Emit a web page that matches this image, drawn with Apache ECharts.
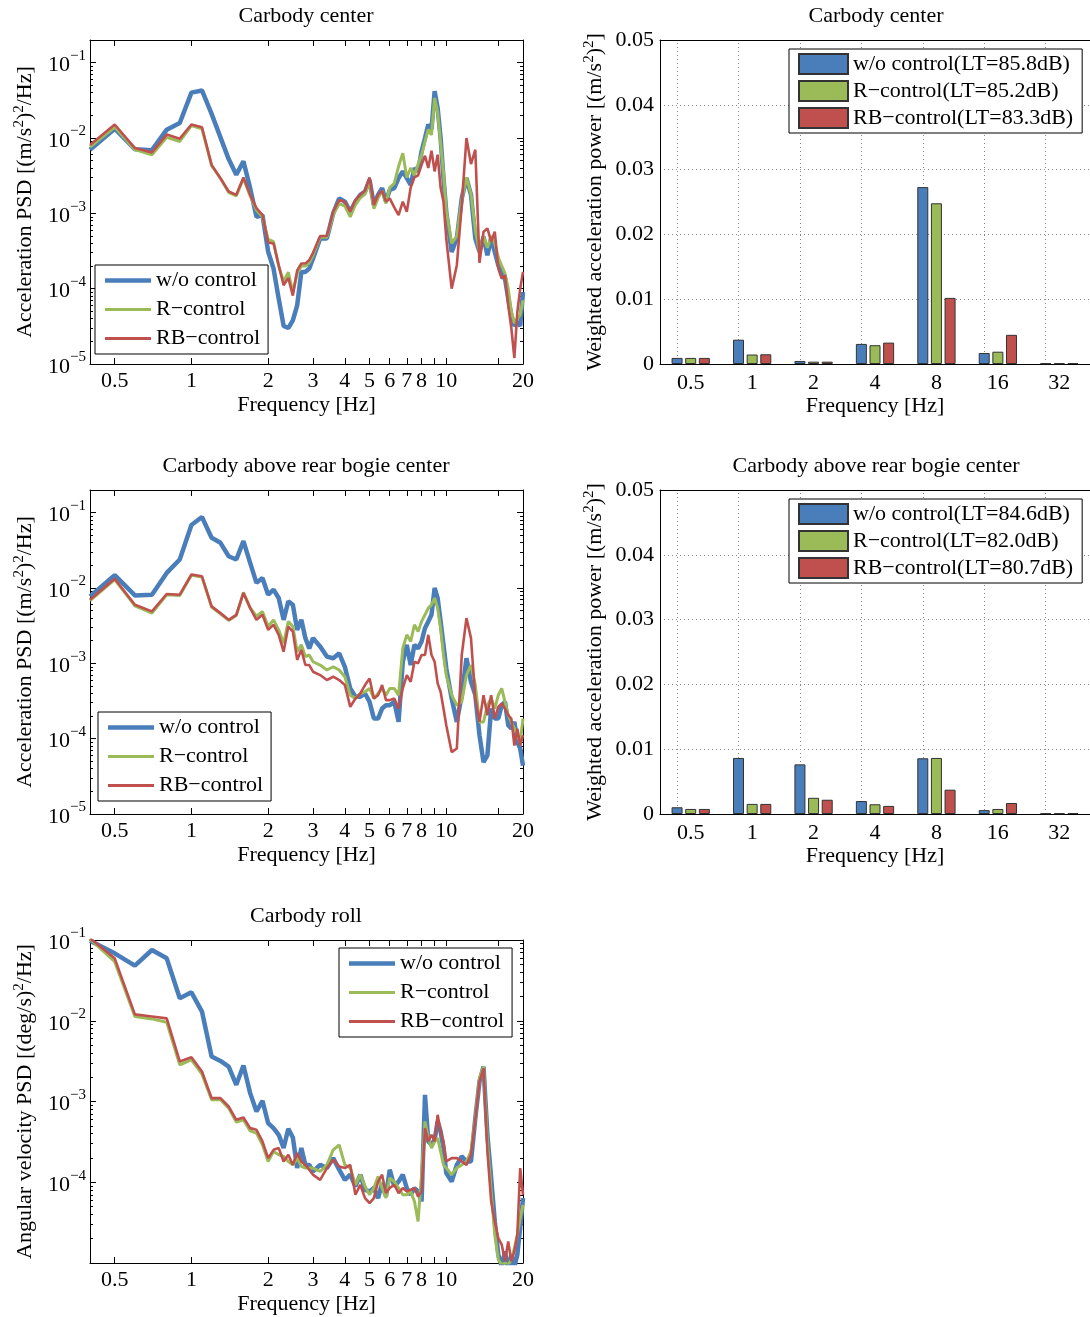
<!DOCTYPE html>
<html><head><meta charset="utf-8">
<script src="https://cdn.jsdelivr.net/npm/echarts@6/dist/echarts.min.js"></script>
<style>html,body{margin:0;padding:0;background:#fff}#c{width:1090px;height:1317px}</style>
</head><body><div id="c"></div>
<script>
// ---------------- DATA ----------------
const freq = [
  0.4,0.5,0.6,0.7,0.8,0.9,1.0,1.1,1.2,1.3,1.4,1.5,1.6,1.7,1.8,1.9,2.0,2.1,2.2,2.3,2.4,2.5,2.6,2.7,2.8,2.9,3.0,
  3.2,3.4,3.6,3.8,4.0,4.2,4.4,4.6,4.8,5.0,5.2,5.4,5.6,5.8,6.0,
  6.25,6.5,6.75,7.0,7.25,7.5,7.75,8.0,8.25,8.5,8.75,9.0,9.25,9.5,9.75,10,
  10.5,11,11.5,12,12.5,13,13.5,14,14.5,15,15.5,16,16.5,17,17.5,18,18.5,19,19.5,20
];
// Carbody center acceleration PSD [(m/s^2)^2/Hz]
const centerWo = [
  0.0070,0.0133,0.0071,0.0069,0.0129,0.0158,0.040,0.0428,0.0209,0.0102,0.00525,0.00325,0.00489,0.00216,0.00090,0.00095,0.00031,0.000185,7.4e-5,3.2e-5,3.0e-5,3.8e-5,6.0e-5,0.000167,0.000167,0.000185,0.000251,
  0.000464,0.000464,0.00100,0.00158,0.00143,0.00105,0.00143,0.00176,0.00195,0.00278,0.00129,0.00176,0.00216,0.00143,0.00205,
  0.00216,0.00293,0.0036,0.00293,0.00239,0.00398,0.0036,0.00664,0.0100,0.0151,0.0130,0.042,0.025,0.0100,0.00293,0.00105,
  0.000308,0.000464,0.00158,0.00293,0.00176,0.000464,0.000308,0.000489,0.000278,0.000464,0.000308,0.000205,0.000167,0.000136,7.4e-5,4.4e-5,3.2e-5,3.6e-5,3.2e-5,9.0e-5
];
const centerR = [
  0.0076,0.0140,0.0070,0.0060,0.0102,0.0090,0.0146,0.0132,0.0043,0.0029,0.0019,0.0017,0.0029,0.0017,0.0011,0.00090,0.00045,0.00042,0.00020,0.000125,0.000165,9.0e-5,0.000160,0.000200,0.000200,0.00022,0.00028,
  0.00048,0.00048,0.00095,0.00135,0.00125,0.00090,0.00130,0.00160,0.00180,0.0026,0.00115,0.00160,0.0020,0.00135,0.0022,
  0.0025,0.0042,0.0063,0.0030,0.0040,0.0032,0.0045,0.0060,0.0090,0.0130,0.0110,0.034,0.022,0.0085,0.0035,0.0011,
  0.00040,0.00050,0.00150,0.0030,0.0018,0.00060,0.00030,0.00050,0.00035,0.00050,0.00040,0.00026,0.00020,0.00016,0.00010,5.0e-5,3.5e-5,4.0e-5,4.5e-5,7e-5
];
const centerRB = [
  0.0081,0.0151,0.00735,0.00644,0.0111,0.0098,0.0151,0.0139,0.0044,0.00293,0.00195,0.00176,0.0030,0.00176,0.00117,0.00095,0.00041,0.000398,0.000205,0.000111,0.000139,8.1e-5,0.000175,0.000216,0.000216,0.00024,0.00030,
  0.00050,0.00050,0.00105,0.00150,0.00143,0.00105,0.00150,0.00176,0.0020,0.0030,0.00129,0.00176,0.0020,0.00143,0.00158,
  0.0012,0.00095,0.00143,0.00105,0.0022,0.0030,0.0032,0.0044,0.0058,0.0040,0.0068,0.0036,0.0060,0.0022,0.00143,0.00046,
  0.0001,0.000205,0.00129,0.0100,0.0045,0.0070,0.00022,0.00057,0.00063,0.00042,0.00057,0.000185,0.000136,0.00015,6e-5,3e-5,1.2e-5,4.9e-5,0.0001,0.000167
];
// Carbody above rear bogie center acceleration PSD
const bogieWo = [
  7.74e-3,1.48e-2,7.98e-3,8.15e-3,1.585e-2,2.39e-2,6.85e-2,8.75e-2,4.64e-2,3.98e-2,2.64e-2,2.39e-2,4.19e-2,2.16e-2,1.17e-2,1.36e-2,8.15e-3,9.5e-3,7.36e-3,3.78e-3,6.64e-3,6.0e-3,2.78e-3,3.78e-3,2.16e-3,1.58e-3,2.16e-3,
  1.67e-3,1.23e-3,1.17e-3,1.36e-3,9.0e-4,4.64e-4,3.6e-4,3.6e-4,3.98e-4,3.08e-4,1.85e-4,1.85e-4,2.51e-4,2.78e-4,2.78e-4,
  3.08e-4,1.67e-4,1.05e-3,1.76e-3,9.5e-4,1.76e-3,1.58e-3,1.95e-3,2.93e-3,3.6e-3,4.41e-3,1.0e-2,7.36e-3,3.6e-3,1.76e-3,8.58e-4,
  3.41e-4,1.67e-4,3.78e-4,1.17e-3,5.7e-4,3.78e-4,1.11e-4,4.89e-5,6.0e-5,2.51e-4,1.85e-4,1.85e-4,2.78e-4,3.08e-4,1.51e-4,1.36e-4,1.67e-4,9.0e-5,7.4e-5,4.4e-5
];
const bogieR = [
  6.78e-3,1.29e-2,5.81e-3,4.64e-3,8.15e-3,7.98e-3,1.48e-2,1.40e-2,5.58e-3,4.55e-3,3.71e-3,4.32e-3,8.75e-3,5.5e-3,4.19e-3,4.89e-3,3.08e-3,3.78e-3,2.78e-3,1.85e-3,3.6e-3,3.08e-3,1.43e-3,1.76e-3,1.23e-3,1.29e-3,1.05e-3,
  9.5e-4,8.15e-4,9.0e-4,8.15e-4,6.64e-4,3.78e-4,3.41e-4,3.98e-4,4.19e-4,4.64e-4,3.41e-4,3.98e-4,4.64e-4,3.78e-4,4.64e-4,
  4.64e-4,3.78e-4,1.58e-3,2.39e-3,1.95e-3,3.25e-3,2.64e-3,3.6e-3,4.41e-3,5.41e-3,6.0e-3,7.36e-3,5.41e-3,2.93e-3,1.29e-3,6.99e-4,
  3.78e-4,2.78e-4,3.08e-4,6.99e-4,9.5e-4,5.15e-4,1.67e-4,1.67e-4,2.78e-4,3.41e-4,2.51e-4,3.78e-4,4.64e-4,3.08e-4,2.05e-4,1.67e-4,1.36e-4,1.11e-4,9.0e-5,1.85e-4
];
const bogieRB = [
  6.99e-3,1.33e-2,6.0e-3,4.89e-3,8.32e-3,8.15e-3,1.51e-2,1.43e-2,5.7e-3,4.64e-3,3.78e-3,4.41e-3,8.58e-3,5.41e-3,3.78e-3,4.41e-3,2.78e-3,3.25e-3,2.39e-3,1.43e-3,3.08e-3,2.64e-3,1.11e-3,1.51e-3,9.5e-4,9.5e-4,7.74e-4,
  6.99e-4,6.0e-4,6.64e-4,6.0e-4,5.15e-4,2.64e-4,3.41e-4,3.98e-4,5.15e-4,6.3e-4,3.41e-4,3.78e-4,5.15e-4,3.25e-4,3.25e-4,
  3.41e-4,2.51e-4,4.64e-4,6.99e-4,5.7e-4,1.05e-3,1.0e-3,1.29e-3,1.29e-3,2.39e-3,1.29e-3,1.05e-3,5.41e-4,4.19e-4,2.51e-4,1.51e-4,
  6.64e-5,7.4e-5,1.29e-3,3.98e-3,2.16e-3,3.41e-4,1.67e-4,3.78e-4,2.05e-4,3.78e-4,1.85e-4,2.64e-4,2.93e-4,2.51e-4,2.05e-4,1.85e-4,8.1e-5,1.36e-4,8.1e-5,1.11e-4
];
// Carbody roll angular velocity PSD [(deg/s)^2/Hz]
const rollWo = [
  0.098,0.0684,0.0481,0.0752,0.0593,0.019,0.0225,0.0130,0.00361,0.00318,0.00271,0.00161,0.00279,0.00127,0.000752,0.00102,0.000539,0.000468,0.000387,0.000265,0.000459,0.000359,0.00015,0.000265,0.000164,0.000164,0.000136,
  0.000164,0.00015,0.000199,0.000143,0.000107,0.000124,8.88e-5,0.000124,8.07e-5,7.7e-5,8.47e-5,6.37e-5,9.77e-5,6.68e-5,0.000143,
  8.88e-5,0.000102,0.000124,8.47e-5,7.0e-5,8.47e-5,7.7e-5,5.8e-5,0.00121,0.00032,0.000291,0.000336,0.000566,0.000425,0.000265,0.00013,
  0.000102,0.000164,0.000209,0.000181,0.000181,0.000622,0.00177,0.00271,0.000387,0.000113,3.27e-5,1.27e-5,9e-6,1.39e-5,8e-6,1.27e-5,9e-6,1.27e-5,2.71e-5,6.37e-5
];
const rollR = [
  0.103,0.054,0.0113,0.01054,0.00957,0.00284,0.00327,0.00218,0.00105,0.00105,0.000828,0.000555,0.000593,0.000433,0.000406,0.000291,0.000181,0.000241,0.000219,0.000209,0.000181,0.000164,0.000199,0.000157,0.00015,0.00015,0.00015,
  0.000136,0.000164,0.000252,0.000291,0.000164,0.00015,9.31e-5,0.000124,8.88e-5,7.0e-5,8.47e-5,0.000118,8.47e-5,6.37e-5,0.000113,
  0.000102,8.47e-5,7.0e-5,7.0e-5,7.7e-5,5.8e-5,3.27e-5,0.000124,0.000566,0.000352,0.000265,0.00032,0.000352,0.000241,0.000164,0.00015,
  0.000124,0.00015,0.000164,0.000181,0.000241,0.000622,0.00195,0.00271,0.00032,7.7e-5,2.24e-5,1.1e-5,9.5e-6,1.0e-5,9.5e-6,1.1e-5,1.53e-5,2.24e-5,3.6e-5,5.27e-5
];
const rollRB = [
  0.105,0.0593,0.0120,0.0113,0.0107,0.00313,0.00353,0.00235,0.0011,0.0011,0.000867,0.000593,0.000634,0.000468,0.000446,0.00032,0.000199,0.000252,0.000265,0.000181,0.000219,0.000164,0.00023,0.000181,0.000164,0.000143,0.000124,
  0.000107,0.00015,0.00019,0.000157,0.00015,0.000164,7.0e-5,9.31e-5,6.37e-5,5.52e-5,6.37e-5,0.000102,0.000124,7.35e-5,8.47e-5,
  9.31e-5,7.35e-5,8.47e-5,7.7e-5,8.07e-5,8.47e-5,6.68e-5,7.7e-5,0.000468,0.00032,0.000387,0.00032,0.000684,0.000425,0.00032,0.000181,
  0.000199,0.000199,0.000181,0.000164,0.000219,0.000593,0.00177,0.00258,0.000241,5.8e-5,3.27e-5,2.04e-5,1.69e-5,1.05e-5,1.85e-5,1.05e-5,1.39e-5,2.24e-5,0.00015,7.0e-5
];
// Frequency axis ticks (Hz)
const xTickValues = [0.5,1,2,3,4,5,6,7,8,9,10,16,20];
const xLabelValues = [0.5,1,2,3,4,5,6,7,8,10,20];
// Weighted acceleration power per octave band [(m/s^2)^2]
const bandLabels = ['0.5','1','2','4','8','16','32'];
const barCenterWo = [0.00094,0.00375,0.00047,0.0031,0.0273,0.0017,0.0001];
const barCenterR  = [0.00094,0.00146,0.00036,0.0029,0.0248,0.0019,0.0001];
const barCenterRB = [0.00094,0.0015,0.00036,0.0033,0.0102,0.0045,0.00015];
const barBogieWo  = [0.00104,0.00865,0.00766,0.0020,0.0086,0.0006,0.0001];
const barBogieR   = [0.00078,0.00156,0.0025,0.0015,0.00865,0.00078,0.0001];
const barBogieRB  = [0.00078,0.00156,0.0022,0.00125,0.00375,0.0017,0.00015];
const nameWo = 'w/o control', nameR = 'R\u2212control', nameRB = 'RB\u2212control';
const barNames1 = ['w/o control(LT=85.8dB)','R\u2212control(LT=85.2dB)','RB\u2212control(LT=83.3dB)'];
const barNames2 = ['w/o control(LT=84.6dB)','R\u2212control(LT=82.0dB)','RB\u2212control(LT=80.7dB)'];

// ---------------- BUILD ----------------
const FONT = '"Liberation Serif","Times New Roman",serif';
const COLORS = ['#4A7EBB','#9BBB59','#C0504D'];
const WIDTHS = [4.5,3,2.6];
const ICONS = ['path://M0,0H46V4.6H0Z','path://M0,0H46V3.2H0Z','path://M0,0H46V2.8H0Z'];
const lg = v => Math.log10(v);
const X_MIN = lg(0.4), X_MAX = lg(20);
const xTickLog = xTickValues.map(lg), xLabelLog = xLabelValues.map(lg);
const txt = {fontFamily: FONT, fontSize: 22, color: '#000'};
const supRich = {s: {fontFamily: FONT, fontSize: 15, color: '#000', verticalAlign: 'top', lineHeight: 15}};

const grids = [], xAxes = [], yAxes = [], series = [], legends = [], titles = [];

const psdPanels = [
  {title: 'Carbody center', top: 40, height: 324, ymax: lg(0.2), yLabels: [-5,-4,-3,-2,-1],
   yName: 'Acceleration PSD [(m/s{s|2}){s|2}/Hz]', data: [centerWo, centerR, centerRB], legend: {left: 95, top: 265}},
  {title: 'Carbody above rear bogie center', top: 490, height: 324, ymax: lg(0.2), yLabels: [-5,-4,-3,-2,-1],
   yName: 'Acceleration PSD [(m/s{s|2}){s|2}/Hz]', data: [bogieWo, bogieR, bogieRB], legend: {left: 98, top: 712}},
  {title: 'Carbody roll', top: 940, height: 323, ymax: -1, yLabels: [-4,-3,-2,-1],
   yName: 'Angular velocity PSD [(deg/s){s|2}/Hz]', data: [rollWo, rollR, rollRB], legend: {left: 339, top: 948}}
];

function minorTicks(ymin, ymax) {
  const out = [];
  for (let e = -6; e <= 0; e++) for (let m = 2; m <= 9; m++) {
    const v = e + lg(m);
    if (v > ymin && v < ymax) out.push(v);
  }
  return out;
}
const blackLine = {show: true, onZero: false, lineStyle: {color: '#000', width: 1}};

psdPanels.forEach((p, i) => {
  grids.push({left: 90, top: p.top, width: 433, height: p.height});
  const xi = xAxes.length, yi = yAxes.length;
  const xBase = {gridIndex: i, type: 'value', min: X_MIN, max: X_MAX, splitLine: {show: false},
    axisLine: blackLine};
  xAxes.push(Object.assign({}, xBase, {position: 'bottom',
    axisTick: {inside: true, length: 6, customValues: xTickLog, lineStyle: {color: '#000'}},
    axisLabel: Object.assign({customValues: xLabelLog, margin: 6, formatter: v => {
      const f = Math.pow(10, v); return f < 1 ? f.toFixed(1) : String(Math.round(f)); }}, txt),
    name: 'Frequency [Hz]', nameLocation: 'middle', nameGap: 30, nameTextStyle: txt}));
  xAxes.push(Object.assign({}, xBase, {position: 'top',
    axisTick: {inside: true, length: 6, customValues: xTickLog, lineStyle: {color: '#000'}},
    axisLabel: {show: false}}));
  const minors = minorTicks(-5, p.ymax);
  const yBase = {gridIndex: i, type: 'value', min: -5, max: p.ymax, splitLine: {show: false}};
  yAxes.push(Object.assign({}, yBase, {position: 'left', axisLine: blackLine,
    axisTick: {inside: true, length: 6, customValues: [-5,-4,-3,-2,-1], lineStyle: {color: '#000'}},
    axisLabel: {customValues: p.yLabels, margin: 4,
      formatter: v => '{b|10}{s|' + (v < 0 ? '\u2212' : '') + Math.abs(Math.round(v)) + '}',
      rich: {b: {fontFamily: FONT, fontSize: 22, color: '#000', verticalAlign: 'bottom', lineHeight: 28},
             s: {fontFamily: FONT, fontSize: 15, color: '#000', verticalAlign: 'top', lineHeight: 15}}},
    name: p.yName, nameLocation: 'middle', nameGap: 52, nameRotate: 90,
    nameTextStyle: Object.assign({rich: supRich, lineHeight: 26}, txt)}));
  yAxes.push(Object.assign({}, yBase, {position: 'left', axisLine: {show: false, onZero: false},
    axisTick: {inside: true, length: 3, customValues: minors, lineStyle: {color: '#000'}},
    axisLabel: {show: false}}));
  yAxes.push(Object.assign({}, yBase, {position: 'right', axisLine: blackLine,
    axisTick: {inside: true, length: 6, customValues: [-5,-4,-3,-2,-1], lineStyle: {color: '#000'}},
    axisLabel: {show: false}}));
  yAxes.push(Object.assign({}, yBase, {position: 'right', axisLine: {show: false, onZero: false},
    axisTick: {inside: true, length: 3, customValues: minors, lineStyle: {color: '#000'}},
    axisLabel: {show: false}}));
  [nameWo, nameR, nameRB].forEach((nm, k) => {
    series.push({type: 'line', name: nm, xAxisIndex: xi, yAxisIndex: yi, symbol: 'none',
      animation: false, clip: true, z: 2 + k,
      lineStyle: {color: COLORS[k], width: WIDTHS[k]}, itemStyle: {color: COLORS[k]},
      data: freq.map((f, j) => [lg(f), lg(p.data[k][j])])});
  });
  legends.push({data: [nameWo, nameR, nameRB].map((nm, k) => ({name: nm, icon: ICONS[k],
      itemStyle: {color: COLORS[k], borderWidth: 0}})),
    orient: 'vertical', left: p.legend.left, top: p.legend.top, symbolKeepAspect: true,
    itemWidth: 46, itemHeight: 14, itemGap: 4, padding: [3, 8, 3, 10], selectedMode: false,
    borderColor: '#000', borderWidth: 1, backgroundColor: '#fff',
    textStyle: Object.assign({lineHeight: 25}, txt)});
  titles.push({text: p.title, left: 306, top: p.top - 35, textAlign: 'center', padding: 0,
    textStyle: Object.assign({fontWeight: 'normal'}, txt)});
});

const barPanels = [
  {title: 'Carbody center', top: 40, data: [barCenterWo, barCenterR, barCenterRB], names: barNames1},
  {title: 'Carbody above rear bogie center', top: 490, data: [barBogieWo, barBogieR, barBogieRB], names: barNames2}
];
barPanels.forEach((p, j) => {
  const gi = grids.length;
  grids.push({left: 660, top: p.top, width: 434, height: 324});
  const xi = xAxes.length, yi = yAxes.length;
  xAxes.push({gridIndex: gi, type: 'category', data: bandLabels, position: 'bottom',
    axisLine: blackLine, axisTick: {alignWithLabel: true, inside: true, length: 4, lineStyle: {color: '#000'}},
    axisLabel: Object.assign({margin: 8}, txt), splitLine: {show: false},
    name: 'Frequency [Hz]', nameLocation: 'middle', nameGap: 30, nameTextStyle: txt});
  xAxes.push({gridIndex: gi, type: 'category', data: bandLabels, position: 'top',
    axisLine: blackLine, axisTick: {alignWithLabel: true, inside: true, length: 4, lineStyle: {color: '#000'}},
    axisLabel: {show: false}, splitLine: {show: false}});
  yAxes.push({gridIndex: gi, type: 'value', min: 0, max: 0.05, interval: 0.01, position: 'left',
    axisLine: blackLine, axisTick: {inside: true, length: 5, lineStyle: {color: '#000'}},
    axisLabel: Object.assign({margin: 6}, txt),
    splitLine: {show: true, lineStyle: {type: [1, 3], color: '#888', width: 1}},
    name: 'Weighted acceleration power [(m/s{s|2}){s|2}]', nameLocation: 'middle', nameGap: 52, nameRotate: 90,
    nameTextStyle: Object.assign({rich: supRich, lineHeight: 26}, txt)});
  yAxes.push({gridIndex: gi, type: 'value', min: 0, max: 0.05, interval: 0.01, position: 'right',
    axisLine: blackLine, axisTick: {show: false}, axisLabel: {show: false}, splitLine: {show: false}});
  p.names.forEach((nm, k) => {
    const s = {type: 'bar', name: nm, xAxisIndex: xi, yAxisIndex: yi, barWidth: 11, barGap: '24%',
      animation: false, z: 3,
      itemStyle: {color: COLORS[k], borderColor: '#333', borderWidth: 1},
      data: p.data[k]};
    if (k === 0) {
      s.markLine = {silent: true, symbol: 'none', z: 1, animation: false, label: {show: false},
        lineStyle: {type: [1, 3], color: '#888', width: 1},
        data: bandLabels.map(c => ({xAxis: c}))};
    }
    series.push(s);
  });
  legends.push({data: p.names, icon: 'rect', orient: 'vertical', left: 789, top: p.top + 9,
    itemWidth: 49, itemHeight: 20, itemGap: 3, padding: [3, 9, 3, 9], selectedMode: false,
    borderColor: '#000', borderWidth: 1, backgroundColor: '#fff',
    textStyle: Object.assign({lineHeight: 24}, txt)});
  titles.push({text: p.title, left: 876, top: p.top - 35, textAlign: 'center', padding: 0,
    textStyle: Object.assign({fontWeight: 'normal'}, txt)});
});

const chart = echarts.init(document.getElementById('c'));
chart.setOption({
  backgroundColor: '#fff', animation: false,
  title: titles, legend: legends, grid: grids, xAxis: xAxes, yAxis: yAxes, series: series
});
</script></body></html>
